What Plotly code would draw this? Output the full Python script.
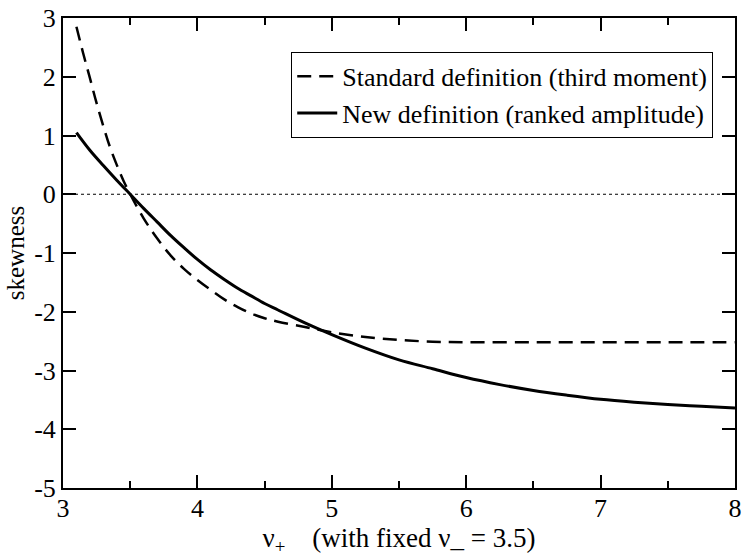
import plotly.graph_objects as go

# Data
x_std = [3.1, 3.15, 3.2, 3.25, 3.3, 3.35, 3.4, 3.45, 3.5, 3.6, 3.7, 3.8, 3.9, 4.0,
         4.1, 4.2, 4.3, 4.4, 4.5, 4.6, 4.8, 5.0, 5.25, 5.5, 5.75, 6.0, 6.5, 7.0, 7.5, 8.0]
y_std = [2.85, 2.40, 1.98, 1.55, 1.16, 0.80, 0.50, 0.23, 0.00, -0.41, -0.75, -1.04, -1.27, -1.46,
         -1.63, -1.79, -1.92, -2.03, -2.11, -2.17, -2.26, -2.35, -2.43, -2.48, -2.51, -2.52, -2.52, -2.52, -2.52, -2.52]

x_new = [3.1, 3.2, 3.3, 3.4, 3.5, 3.6, 3.7, 3.8, 3.9, 4.0, 4.1, 4.2, 4.3, 4.4, 4.5, 4.6, 4.8,
         5.0, 5.25, 5.5, 5.75, 6.0, 6.25, 6.5, 6.75, 7.0, 7.25, 7.5, 7.75, 8.0]
y_new = [1.05, 0.75, 0.49, 0.24, 0.00, -0.24, -0.47, -0.70, -0.91, -1.11, -1.29, -1.45, -1.60, -1.73, -1.86, -1.97, -2.19,
         -2.39, -2.62, -2.82, -2.97, -3.12, -3.24, -3.34, -3.42, -3.49, -3.54, -3.58, -3.61, -3.64]

series_names = ["Standard definition (third moment)", "New definition (ranked amplitude)"]
x_ticks = [3, 4, 5, 6, 7, 8]
y_ticks = [-5, -4, -3, -2, -1, 0, 1, 2, 3]
y_ticktext = ["-5", "-4", "-3", "-2", "-1", "0", "1", "2", "3"]

FONT = "Liberation Serif, Times New Roman, serif"

fig = go.Figure()
fig.add_trace(go.Scatter(x=x_std, y=y_std, mode="lines", name=series_names[0],
                         line=dict(color="black", width=2.5, dash="14px,8px", shape="spline")))
fig.add_trace(go.Scatter(x=x_new, y=y_new, mode="lines", name=series_names[1],
                         line=dict(color="black", width=3, shape="spline")))
fig.add_trace(go.Scatter(x=[3, 8], y=[0, 0], mode="lines", showlegend=False,
                         line=dict(color="black", width=1, dash="dot")))

fig.update_layout(
    width=746, height=557,
    margin=dict(l=63, r=4, t=13, b=69),
    plot_bgcolor="white", paper_bgcolor="white",
    font=dict(family=FONT, color="black"),
    showlegend=True,
    legend=dict(x=0.9676, xanchor="right", y=0.928, yanchor="top",
                bordercolor="black", borderwidth=1, bgcolor="white",
                font=dict(family=FONT, size=26), tracegroupgap=0,
                itemwidth=40),
)
fig.update_xaxes(
    range=[3, 8], tickvals=x_ticks, ticks="inside", ticklen=13, tickwidth=1.5, tickcolor="black",
    showline=True, linecolor="black", linewidth=2, mirror="ticks", showgrid=False, zeroline=False,
    tickfont=dict(family=FONT, size=26), ticklabeloverflow="allow", ticklabelstandoff=-4,
    minor=dict(dtick=0.5, ticks="inside", ticklen=7, tickwidth=1.5, tickcolor="black", showgrid=False),
    title=dict(text="ν<sub>+</sub>    (with fixed ν_ = 3.5)", font=dict(family=FONT, size=27), standoff=0),
)
fig.update_yaxes(
    range=[-5, 3], tickvals=y_ticks, ticktext=y_ticktext, ticks="inside", ticklen=13, tickwidth=1.5,
    tickcolor="black", ticklabeloverflow="allow",
    showline=True, linecolor="black", linewidth=2, mirror="ticks", showgrid=False, zeroline=False,
    tickfont=dict(family=FONT, size=26),
    title=dict(text="skewness", font=dict(family=FONT, size=25), standoff=2),
)

fig.write_html("out.html")
